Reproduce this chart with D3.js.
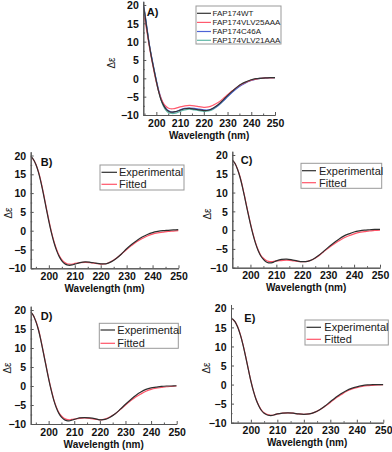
<!DOCTYPE html>
<html lang="en">
<head>
<meta charset="UTF-8">
<title>CD spectra</title>
<style>
    html,body{ margin:0; padding:0; background:#fff; }
    svg text{ font-family:"Liberation Sans", Arial, sans-serif; }
</style>
</head>
<body>
<svg id="chart" width="392" height="452"></svg>
<script src="https://d3js.org/d3.v7.min.js"></script>
<script>
// wavelength grid (nm)
const wavelengths = [193,194,195,196,197,198,199,200,201,202,203,204,205,206,207,208,209,210,
    212,214,216,218,220,222,224,226,228,230,232,234,236,238,240,242,244,246,248,250];

const xTicks = [200,210,220,230,240,250];
const yTicks = [-10,-5,0,5,10,15,20];

// panel A: four constructs
const seriesNamesA = ["FAP174WT","FAP174VLV25AAA","FAP174C46A","FAP174VLV21AAA"];
const aWT    = [23.0,21.2,18.0,13.5,9.2,5.5,2.3,-0.8,-3.7,-5.9,-7.3,-8.3,-8.9,-9.2,-9.2,-9.1,-8.9,-8.7,
    -8.3,-8.2,-8.4,-8.6,-8.8,-8.7,-8.1,-7.2,-6.0,-4.7,-3.5,-2.4,-1.5,-0.9,-0.4,-0.1,0.0,0.1,0.2,0.2];
const aVLV25 = [19.5,18.2,16.3,12.8,8.8,5.2,1.9,-1.1,-3.6,-5.5,-6.8,-7.6,-8.1,-8.3,-8.3,-8.2,-8.0,-7.8,
    -7.5,-7.4,-7.5,-7.7,-7.9,-7.8,-7.3,-6.6,-5.6,-4.5,-3.4,-2.4,-1.6,-1.0,-0.5,-0.2,0.0,0.1,0.1,0.2];
const aC46A  = [23.2,21.5,18.5,14.0,9.5,5.9,2.6,-0.5,-3.3,-5.5,-7.1,-8.2,-8.8,-9.1,-9.2,-9.1,-8.9,-8.6,
    -8.2,-8.1,-8.2,-8.4,-8.6,-8.6,-8.2,-7.4,-6.3,-5.0,-3.8,-2.7,-1.8,-1.1,-0.6,-0.2,0.0,0.1,0.2,0.2];
const aVLV21 = [22.5,20.8,18.2,13.7,9.3,5.7,2.4,-0.8,-3.6,-5.9,-7.6,-8.7,-9.3,-9.5,-9.6,-9.5,-9.3,-9.0,
    -8.6,-8.4,-8.6,-8.8,-9.0,-8.9,-8.4,-7.5,-6.3,-5.0,-3.7,-2.6,-1.7,-1.0,-0.5,-0.2,0.0,0.1,0.2,0.2];

// panels B-E: experimental vs fitted
const fitNames = ["Experimental","Fitted"];
const bExp = [19.8,19.0,17.6,15.5,12.7,9.4,5.9,2.5,-0.6,-3.2,-5.3,-6.9,-8.0,-8.7,-9.1,-9.2,-9.1,-8.9,
    -8.5,-8.3,-8.4,-8.6,-8.8,-8.8,-8.3,-7.4,-6.2,-4.8,-3.6,-2.6,-1.7,-1.0,-0.5,-0.2,0.0,0.1,0.2,0.3];
const bFit = [19.6,19.0,17.7,15.7,13.0,9.7,6.2,2.8,-0.3,-2.9,-5.0,-6.6,-7.7,-8.4,-8.8,-8.9,-8.9,-8.7,
    -8.5,-8.4,-8.5,-8.7,-8.9,-8.8,-8.2,-7.3,-6.2,-5.0,-3.9,-2.9,-2.1,-1.4,-0.9,-0.6,-0.4,-0.2,-0.1,0.0];
const cExp = [18.7,17.8,16.2,14.0,11.2,8.0,4.7,1.6,-1.2,-3.6,-5.5,-6.9,-7.8,-8.4,-8.7,-8.7,-8.5,-8.2,
    -7.8,-7.7,-7.9,-8.2,-8.4,-8.3,-7.8,-6.9,-5.8,-4.6,-3.5,-2.5,-1.6,-1.0,-0.5,-0.2,0.0,0.1,0.2,0.2];
const cFit = [18.6,17.8,16.3,14.2,11.4,8.2,4.9,1.8,-1.0,-3.4,-5.3,-6.7,-7.5,-8.0,-8.3,-8.4,-8.3,-8.2,
    -8.1,-8.0,-8.1,-8.3,-8.4,-8.3,-7.8,-7.0,-5.9,-4.8,-3.8,-2.9,-2.1,-1.5,-1.0,-0.6,-0.4,-0.2,-0.1,0.0];
const dExp = [19.5,18.6,17.0,14.8,11.9,8.6,5.2,1.9,-1.1,-3.7,-5.7,-7.2,-8.2,-8.8,-9.1,-9.2,-9.0,-8.8,
    -8.4,-8.3,-8.4,-8.6,-8.9,-8.8,-8.2,-7.3,-6.1,-4.8,-3.6,-2.5,-1.6,-0.9,-0.5,-0.3,-0.1,0.0,0.0,0.1];
const dFit = [19.4,18.6,17.1,15.0,12.1,8.8,5.4,2.1,-0.9,-3.5,-5.5,-7.0,-7.9,-8.5,-8.8,-8.9,-8.8,-8.7,
    -8.5,-8.4,-8.5,-8.7,-8.9,-8.7,-8.1,-7.3,-6.2,-5.0,-3.9,-2.9,-2.1,-1.4,-0.9,-0.6,-0.4,-0.2,-0.1,0.0];
const eExp = [17.3,16.5,15.1,13.1,10.5,7.4,4.1,0.9,-1.8,-4.0,-5.6,-6.8,-7.5,-7.9,-8.1,-8.1,-7.9,-7.7,
    -7.5,-7.4,-7.5,-7.7,-7.8,-7.7,-7.3,-6.6,-5.6,-4.5,-3.4,-2.4,-1.6,-1.0,-0.6,-0.3,-0.1,0.0,0.0,0.0];
const eFit = [17.2,16.5,15.2,13.2,10.6,7.5,4.2,1.0,-1.7,-3.9,-5.5,-6.7,-7.4,-7.8,-8.0,-8.1,-7.9,-7.7,
    -7.5,-7.4,-7.5,-7.7,-7.8,-7.7,-7.3,-6.6,-5.7,-4.7,-3.6,-2.7,-1.8,-1.2,-0.8,-0.5,-0.3,-0.2,-0.1,0.0];

const svg = d3.select("#chart");
const colExp = "#2e2e2e", colFit = "#ff5468";

function drawPanel(p) {
    const x = d3.scaleLinear().domain(p.xDomain).range([p.left, p.right]);
    const y = d3.scaleLinear().domain([-10, 21]).range([p.bottom, p.bottom - 31 * p.unit]);
    const g = svg.append("g");

    const clipId = "clip" + p.label[0];
    g.append("clipPath").attr("id", clipId).append("rect")
        .attr("x", p.left).attr("y", y(21))
        .attr("width", p.right - p.left).attr("height", p.bottom - y(21));

    const line = d3.line().curve(d3.curveCatmullRom)
        .x((d, i) => x(wavelengths[i])).y(d => y(d));

    // draw last series first so the first one sits on top
    const plot = g.append("g").attr("clip-path", "url(#" + clipId + ")");
    p.series.slice().reverse().forEach(s => {
        plot.append("path").attr("d", line(s.values))
            .attr("fill", "none").attr("stroke", s.color).attr("stroke-width", 1.2);
    });

    // axes (ticks pointing inward, Origin style)
    const ax = g.append("g").attr("transform", `translate(0,${p.bottom})`)
        .call(d3.axisBottom(x).tickValues(xTicks).tickSizeInner(-3).tickSizeOuter(0).tickFormat(d3.format("d")));
    ax.append("g").call(d3.axisBottom(x).tickValues(d3.range(195, 251, 10)).tickSizeInner(-1.5).tickSizeOuter(0).tickFormat(""));
    const ay = g.append("g").attr("transform", `translate(${p.left},0)`)
        .call(d3.axisLeft(y).tickValues(yTicks).tickSizeInner(-3).tickSizeOuter(0));
    ay.append("g").call(d3.axisLeft(y).tickValues(d3.range(-7.5, 20, 5)).tickSizeInner(-1.5).tickSizeOuter(0).tickFormat(""));

    [ax, ay].forEach(a => {
        a.selectAll(".domain").attr("stroke", "#555").attr("stroke-width", 1);
        a.selectAll(".tick line").attr("stroke", "#555");
    });
    ax.selectAll(".tick text").attr("y", 0).attr("dy", 11.5)
        .attr("font-size", 10.5).attr("font-weight", "bold").attr("fill", "#111")
        .attr("font-family", "Liberation Sans, Arial, sans-serif");
    ay.selectAll(".tick text").attr("x", -4.5).attr("dy", "0.35em")
        .attr("font-size", 10.5).attr("font-weight", "bold").attr("fill", "#111")
        .attr("font-family", "Liberation Sans, Arial, sans-serif");

    g.append("text").attr("x", (p.left + p.right) / 2).attr("y", p.bottom + 23.5)
        .attr("text-anchor", "middle").attr("font-size", 10).attr("font-weight", "bold")
        .attr("fill", "#111").text("Wavelength (nm)");

    g.append("text").attr("transform", `translate(${p.yLabel[0]},${p.yLabel[1]}) rotate(-90)`)
        .attr("text-anchor", "middle").attr("dy", "0.35em").attr("font-size", 10)
        .attr("fill", "#222").text("Δε");

    g.append("text").attr("x", p.title[0]).attr("y", p.title[1])
        .attr("font-size", 11).attr("font-weight", "bold").attr("fill", "#111").text(p.label);

    // legend
    const L = p.legend;
    g.append("rect").attr("x", L.x0).attr("y", L.y0)
        .attr("width", L.x1 - L.x0).attr("height", L.y1 - L.y0)
        .attr("fill", "#fff").attr("stroke", "#999").attr("stroke-width", 1);
    p.series.forEach((s, i) => {
        const yy = L.rowY[i];
        g.append("line").attr("x1", L.lineX[0]).attr("x2", L.lineX[1])
            .attr("y1", yy).attr("y2", yy).attr("stroke", s.color).attr("stroke-width", 1.2);
        g.append("text").attr("x", L.textX).attr("y", yy).attr("dy", "0.35em")
            .attr("font-size", L.fontSize).attr("fill", "#222").text(s.name);
    });
}

const aColors = ["#333333", "#ff5a6e", "#4d63d6", "#5fb7a6"];
const aValues = [aWT, aVLV25, aC46A, aVLV21];

const panels = [
    { label: "A)", xDomain: [194.5, 250], left: 143.3, right: 275, bottom: 115, unit: 3.667,
      title: [146.7, 16], yLabel: [111.5, 63],
      series: seriesNamesA.map((n, i) => ({ name: n, values: aValues[i], color: aColors[i] })),
      legend: { x0: 196, y0: 6, x1: 281, y1: 44, rowY: [13.3, 22.4, 31.5, 40.3], lineX: [197, 211],
                textX: 212.5, fontSize: 8 } },
    { label: "B)", xDomain: [193, 250], left: 30.7, right: 178.5, bottom: 268.3, unit: 3.76,
      title: [40.7, 165.5], yLabel: [8.3, 213],
      series: [{ name: fitNames[0], values: bExp, color: colExp }, { name: fitNames[1], values: bFit, color: colFit }],
      legend: { x0: 100, y0: 165, x1: 184, y1: 190, rowY: [172.3, 184.3], lineX: [101.5, 117], textX: 119, fontSize: 11 } },
    { label: "C)", xDomain: [193, 250], left: 232.3, right: 380, bottom: 267.7, unit: 3.757,
      title: [240.7, 164], yLabel: [207.7, 214],
      series: [{ name: fitNames[0], values: cExp, color: colExp }, { name: fitNames[1], values: cFit, color: colFit }],
      legend: { x0: 301, y0: 163.3, x1: 381.7, y1: 188.3, rowY: [170.7, 182.7], lineX: [302, 316], textX: 319, fontSize: 11 } },
    { label: "D)", xDomain: [193, 250], left: 30.7, right: 176.7, bottom: 424, unit: 3.8,
      title: [40.7, 320], yLabel: [7.3, 368],
      series: [{ name: fitNames[0], values: dExp, color: colExp }, { name: fitNames[1], values: dFit, color: colFit }],
      legend: { x0: 99.3, y0: 323.3, x1: 178.3, y1: 348.3, rowY: [330, 343.3], lineX: [100.5, 115], textX: 117.3, fontSize: 11 } },
    { label: "E)", xDomain: [192.5, 250], left: 231, right: 383.3, bottom: 422.7, unit: 3.813,
      title: [244.3, 321.7], yLabel: [206.7, 368],
      series: [{ name: fitNames[0], values: eExp, color: colExp }, { name: fitNames[1], values: eFit, color: colFit }],
      legend: { x0: 305, y0: 320, x1: 388.3, y1: 345, rowY: [327.3, 339.3], lineX: [306.5, 321], textX: 324.3, fontSize: 11 } }
];

panels.forEach(drawPanel);
</script>
</body>
</html>
